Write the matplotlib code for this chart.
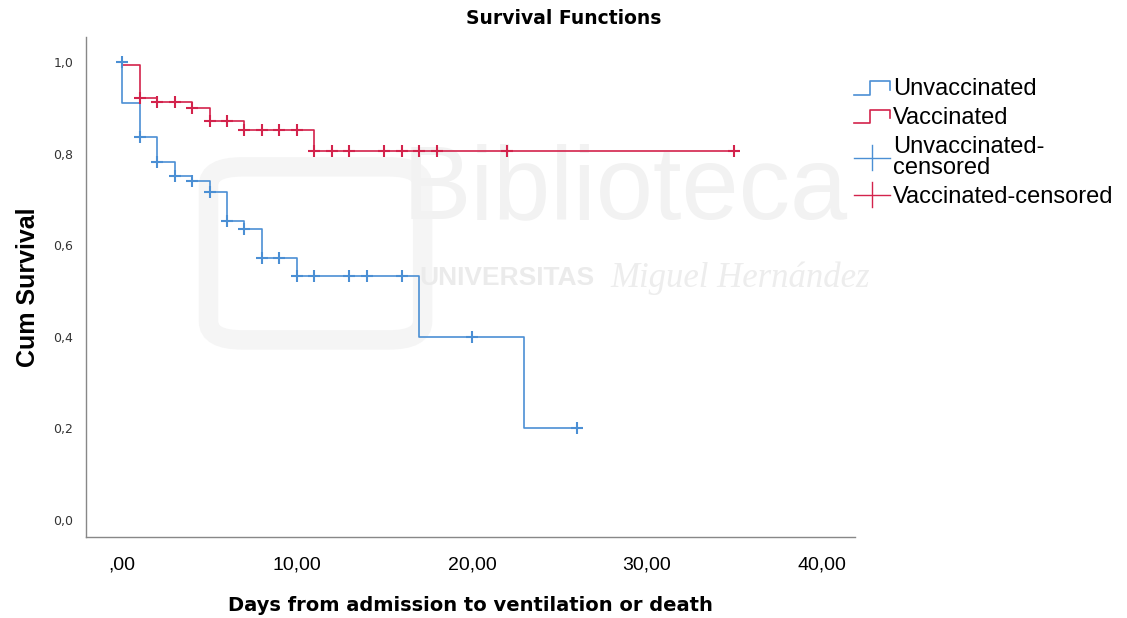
import numpy as np
import matplotlib
matplotlib.use("Agg")
import matplotlib.pyplot as plt
from matplotlib.lines import Line2D
from matplotlib.patches import FancyBboxPatch
from matplotlib.legend_handler import HandlerBase

# Kaplan-Meier steps (time of drop, survival after drop)
unvac_times = [0, 0, 1, 2, 3, 4, 5, 6, 7, 8, 10, 17, 23]
unvac_surv = [1.0, 0.91, 0.836, 0.782, 0.752, 0.740, 0.716, 0.653, 0.636, 0.573, 0.533, 0.40, 0.20]
unvac_end = 26

vac_times = [0, 1, 2, 4, 5, 7, 11]
vac_surv = [0.993, 0.921, 0.913, 0.900, 0.871, 0.852, 0.806]
vac_end = 35

# censored observations
unvac_cens_t = [0, 1, 2, 3, 4, 5, 6, 7, 8, 9, 10, 11, 13, 14, 16, 20, 26]
unvac_cens_s = [1.0, 0.836, 0.782, 0.752, 0.740, 0.716, 0.653, 0.636, 0.573, 0.573,
                0.533, 0.533, 0.533, 0.533, 0.533, 0.40, 0.20]
vac_cens_t = [1, 2, 3, 4, 5, 6, 7, 8, 9, 10, 11, 12, 13, 15, 16, 17, 18, 22, 35]
vac_cens_s = [0.921, 0.913, 0.913, 0.900, 0.871, 0.871, 0.852, 0.852, 0.852, 0.852,
              0.806, 0.806, 0.806, 0.806, 0.806, 0.806, 0.806, 0.806, 0.806]

x_ticks = [0, 10, 20, 30, 40]
x_ticklabels = [',00', '10,00', '20,00', '30,00', '40,00']
y_ticks = [0.0, 0.2, 0.4, 0.6, 0.8, 1.0]
y_ticklabels = ['0,0', '0,2', '0,4', '0,6', '0,8', '1,0']

blue = '#4b8fd4'
red = '#d3234c'


class StepHandler(HandlerBase):
    # little step icon like SPSS uses
    def create_artists(self, legend, orig_handle, xdescent, ydescent,
                       width, height, fontsize, trans):
        x0 = -xdescent
        y0 = -ydescent
        xs = [x0, x0 + width * 0.45, x0 + width * 0.45, x0 + width, x0 + width]
        ys = [y0 + height * 0.05, y0 + height * 0.05, y0 + height * 0.85,
              y0 + height * 0.85, y0 + height * 0.35]
        ln = Line2D(xs, ys, color=orig_handle.get_color(), lw=1.2)
        ln.set_transform(trans)
        return [ln]


class CrossHandler(HandlerBase):
    # long horizontal bar with a short vertical tick
    def create_artists(self, legend, orig_handle, xdescent, ydescent,
                       width, height, fontsize, trans):
        x0 = -xdescent
        y0 = -ydescent
        ym = y0 + height / 2
        c = orig_handle.get_color()
        h = Line2D([x0, x0 + width], [ym, ym], color=c, lw=1.0)
        v = Line2D([x0 + width / 2] * 2, [ym - height * 0.75, ym + height * 0.75], color=c, lw=1.0)
        h.set_transform(trans)
        v.set_transform(trans)
        return [h, v]


fig = plt.figure(figsize=(11.27, 6.18), dpi=100)
ax = fig.add_axes([0.0763, 0.131, 0.6824, 0.809])
ax.set_zorder(1)

# faint watermark, behind everything
fig.patches.append(FancyBboxPatch((0.185, 0.45), 0.19, 0.28,
                                  boxstyle='round,pad=0.0,rounding_size=0.03',
                                  transform=fig.transFigure, fill=False,
                                  edgecolor='#f5f5f5', lw=14, zorder=-1))
fig.text(0.555, 0.69, 'Biblioteca', fontsize=74, color='#f2f2f2',
         ha='center', va='center', family='Liberation Sans', zorder=-1)
fig.text(0.372, 0.55, 'UNIVERSITAS', fontsize=19, color='#ebebeb',
         ha='left', va='center', family='Liberation Sans', fontweight='bold', zorder=-1)
fig.text(0.542, 0.55, 'Miguel Hernández', fontsize=25, color='#ededed',
         ha='left', va='center', family='Liberation Serif', style='italic', zorder=-1)

ax.patch.set_alpha(0)

ax.step(unvac_times + [unvac_end], unvac_surv + [unvac_surv[-1]], where='post',
        color=blue, lw=1.2)
ax.step(vac_times + [vac_end], vac_surv + [vac_surv[-1]], where='post',
        color=red, lw=1.2)
ax.plot(unvac_cens_t, unvac_cens_s, ls='none', marker='+', ms=8.5, mew=1.5, color=blue)
ax.plot(vac_cens_t, vac_cens_s, ls='none', marker='+', ms=8.5, mew=1.5, color=red)

ax.set_xlim(-2.06, 41.9)
ax.set_ylim(-0.038, 1.055)

for s in ['top', 'right']:
    ax.spines[s].set_visible(False)
for s in ['left', 'bottom']:
    ax.spines[s].set_color('#888888')
    ax.spines[s].set_linewidth(1.0)

ax.set_xticks(x_ticks)
ax.set_xticklabels(x_ticklabels, fontsize=14, family='Liberation Sans')
ax.set_yticks(y_ticks)
ax.set_yticklabels(y_ticklabels, fontsize=9, color='#333333')
ax.tick_params(length=0)
ax.tick_params(axis='x', pad=14)
ax.tick_params(axis='y', pad=9)

fig.text(0.5, 0.97, 'Survival Functions', fontsize=13.5, fontweight='bold',
         ha='center', va='center')
ax.set_xlabel('Days from admission to ventilation or death', fontsize=14,
              fontweight='bold', labelpad=16)
ax.set_ylabel('Cum Survival', fontsize=18, fontweight='bold',
              family='Liberation Sans', labelpad=10)

handles = [Line2D([], [], color=blue), Line2D([], [], color=red),
           Line2D([], [], color=blue), Line2D([], [], color=red)]
labels = ['Unvaccinated', 'Vaccinated', 'Unvaccinated-\ncensored', 'Vaccinated-censored']
leg = fig.legend(handles, labels, loc='upper left', bbox_to_anchor=(0.7393, 0.9076),
                 frameon=False, prop={'family': 'Liberation Sans', 'size': 17},
                 handlelength=1.5, handletextpad=0.13, labelspacing=0.28,
                 handler_map={handles[0]: StepHandler(), handles[1]: StepHandler(),
                              handles[2]: CrossHandler(), handles[3]: CrossHandler()})
for t in leg.get_texts():
    t.set_linespacing(0.98)

fig.savefig('out.png', dpi=100)
